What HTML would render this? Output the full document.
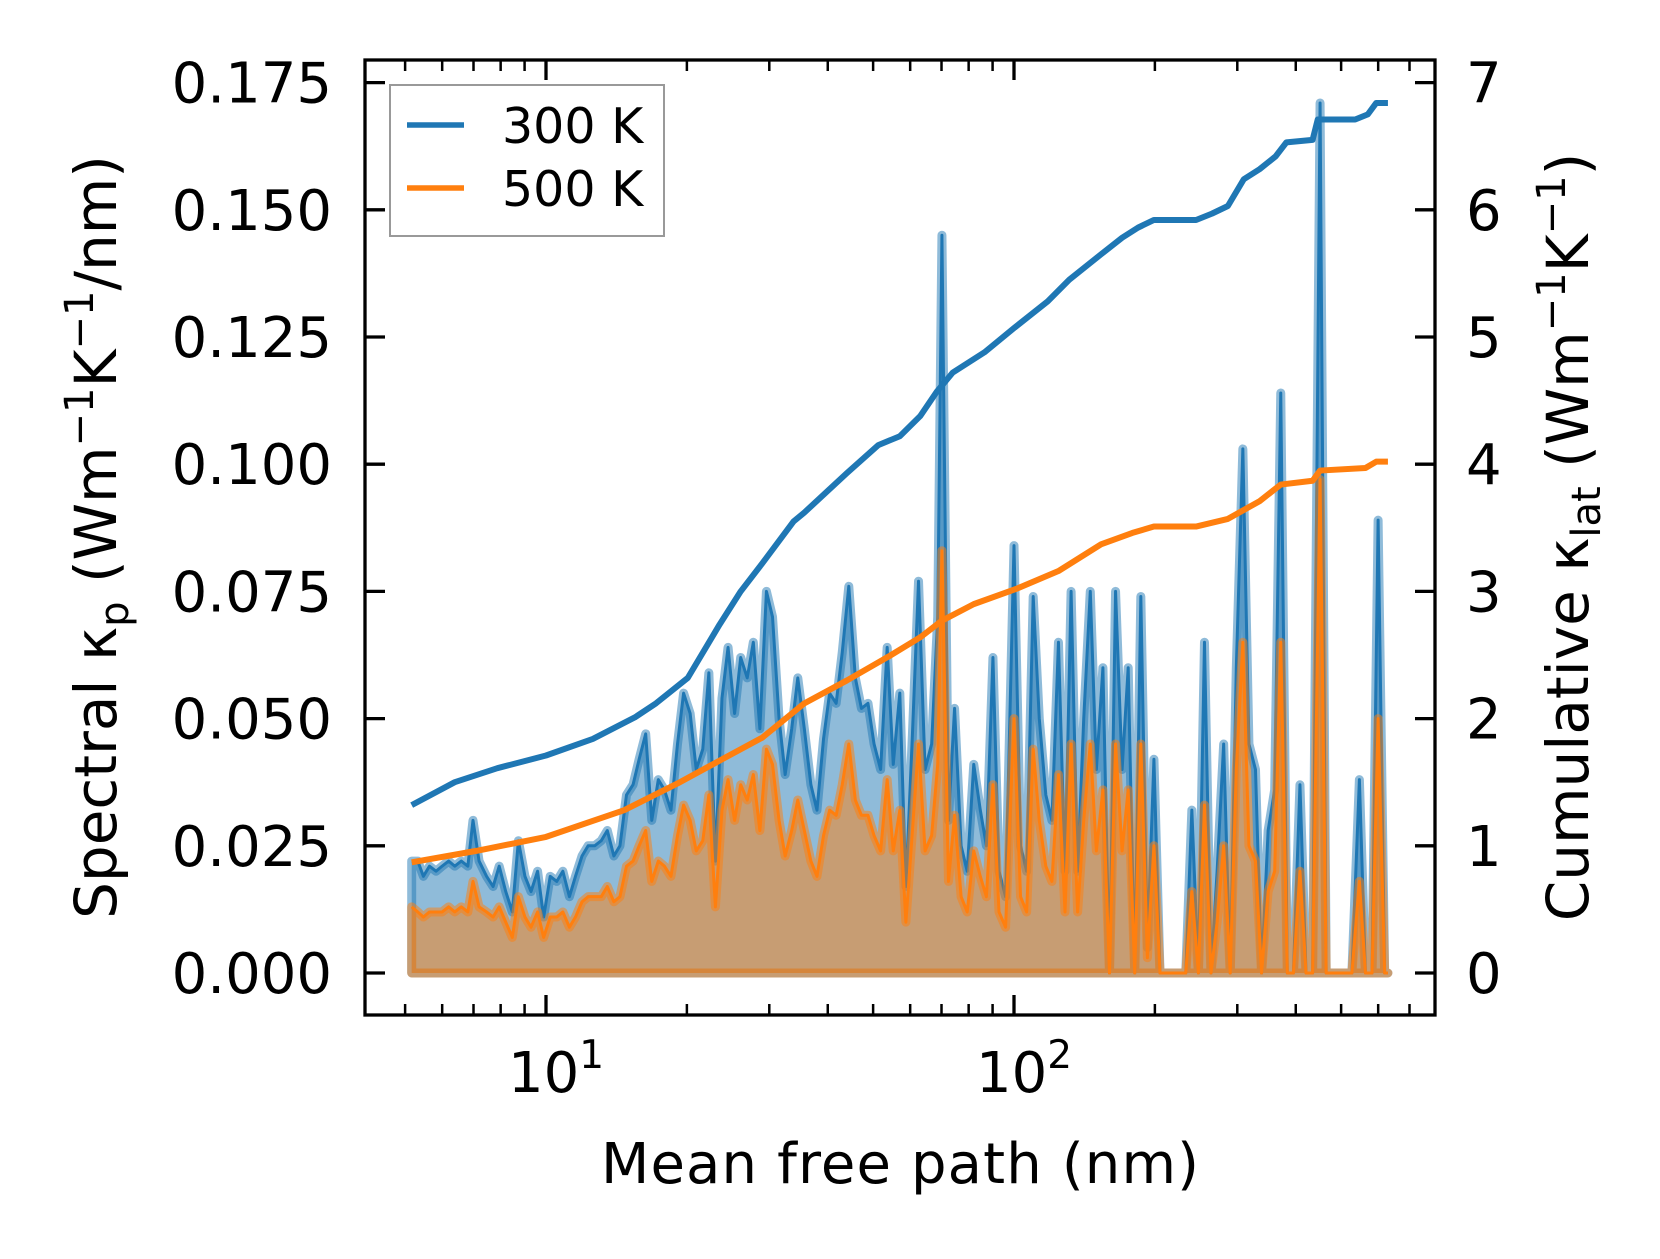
<!DOCTYPE html>
<html><head><meta charset="utf-8"><style>
html,body{margin:0;padding:0;background:#fff}
svg text{font-family:"DejaVu Sans","Liberation Sans",sans-serif;fill:#000}
</style></head><body>
<svg id="chart" width="1660" height="1254" viewBox="0 0 1660 1254" xmlns="http://www.w3.org/2000/svg">
<g id="plot"></g>
</svg>
<script>
// log10 of mean free path (nm) for spectral bins
const logMfp = [
.713,.726,.738,.751,.765,.778,.792,.805,.819,.833,
.844,.857,.873,.887,.900,.914,.928,.941,.955,.968,
.982,.995,1.009,1.023,1.036,1.050,1.063,1.077,1.090,1.104,
1.118,1.131,1.145,1.158,1.172,1.186,1.199,1.213,1.226,1.240,
1.253,1.267,1.281,1.294,1.308,1.321,1.335,1.348,1.362,1.376,
1.389,1.403,1.416,1.430,1.443,1.457,1.471,1.484,1.498,1.511,
1.525,1.538,1.552,1.566,1.579,1.593,1.606,1.620,1.633,1.647,
1.661,1.674,1.688,1.701,1.715,1.729,1.742,1.756,1.769,1.783,
1.796,1.810,1.824,1.837,1.846,1.860,1.873,1.887,1.900,1.914,
1.928,1.941,1.955,1.968,1.982,2.000,2.014,2.027,2.041,2.054,
2.068,2.081,2.095,2.109,2.122,2.136,2.149,2.163,2.176,2.190,
2.204,2.217,2.231,2.244,2.258,2.271,2.285,2.299,2.312,2.326,
2.339,2.353,2.367,2.380,2.394,2.407,2.421,2.434,2.448,2.462,
2.475,2.489,2.502,2.516,2.529,2.543,2.557,2.570,2.584,2.597,
2.611,2.624,2.638,2.654,2.667,2.681,2.695,2.708,2.722,
2.738,2.751,2.765,2.778,2.792,2.799];
const spec300 = [
.022,.022,.019,.021,.020,.021,.022,.021,.022,.021,
.030,.022,.019,.017,.021,.016,.012,.026,.019,.016,
.020,.011,.019,.018,.020,.015,.019,.023,.025,.025,
.026,.028,.023,.025,.035,.037,.042,.047,.030,.038,
.036,.032,.045,.055,.051,.040,.044,.059,.022,.054,
.064,.051,.062,.058,.065,.048,.075,.070,.050,.039,
.048,.058,.048,.037,.032,.046,.055,.053,.063,.076,
.058,.052,.053,.045,.040,.064,.041,.055,.017,.047,
.077,.040,.045,.070,.145,.030,.052,.025,.020,.041,
.032,.025,.062,.020,.015,.084,.025,.020,.074,.050,
.035,.030,.065,.020,.075,.020,.050,.075,.040,.060,
.000,.075,.040,.060,.000,.074,.005,.042,.000,.000,
.000,.000,.000,.032,.000,.065,.000,.020,.045,.000,
.060,.103,.045,.040,.000,.028,.036,.114,.000,.000,
.037,.000,.000,.171,.000,.000,.000,.000,.000,
.038,.000,.000,.089,.000,.000];
const spec500 = [
.013,.012,.011,.012,.012,.012,.013,.012,.013,.012,
.018,.013,.012,.011,.013,.010,.007,.015,.011,.009,
.012,.007,.011,.011,.012,.009,.011,.014,.015,.015,
.015,.017,.014,.015,.021,.022,.025,.028,.018,.022,
.021,.019,.027,.033,.030,.024,.026,.035,.013,.032,
.038,.030,.037,.034,.039,.028,.044,.041,.030,.023,
.028,.034,.028,.022,.019,.027,.032,.031,.037,.045,
.034,.031,.031,.027,.024,.038,.024,.032,.010,.028,
.045,.024,.027,.041,.083,.018,.031,.015,.012,.024,
.019,.015,.037,.012,.009,.050,.015,.012,.044,.030,
.021,.018,.039,.012,.045,.012,.030,.045,.024,.036,
.000,.045,.024,.036,.000,.045,.003,.025,.000,.000,
.000,.000,.000,.016,.000,.033,.000,.010,.025,.000,
.040,.065,.025,.022,.000,.016,.020,.065,.000,.000,
.020,.000,.000,.097,.000,.000,.000,.000,.000,
.018,.000,.000,.050,.000,.000];
// cumulative conductivity
const cumLog300 = [.713,.805,.896,1.0,1.1,1.19,1.235,1.303,1.371,1.416,1.462,1.529,1.552,1.643,1.710,1.756,1.80,1.835,1.869,1.937,2.0,2.072,2.118,2.186,2.231,2.265,2.299,2.389,2.423,2.457,2.491,2.525,2.559,2.582,2.638,2.649,2.729,2.756,2.774,2.799];
const cum300 = [1.32,1.50,1.61,1.71,1.84,2.01,2.12,2.32,2.74,3.00,3.22,3.55,3.62,3.93,4.15,4.22,4.38,4.57,4.72,4.88,5.07,5.28,5.45,5.65,5.78,5.86,5.92,5.92,5.97,6.03,6.24,6.32,6.42,6.53,6.55,6.71,6.71,6.75,6.84,6.84];
const cumLog500 = [.713,.851,1.0,1.167,1.281,1.371,1.462,1.552,1.643,1.733,1.80,1.846,1.914,2.005,2.095,2.186,2.253,2.299,2.389,2.457,2.525,2.570,2.638,2.654,2.751,2.774,2.799];
const cum500 = [0.87,0.96,1.07,1.28,1.49,1.67,1.85,2.12,2.30,2.49,2.64,2.77,2.90,3.02,3.16,3.37,3.46,3.51,3.51,3.57,3.71,3.84,3.87,3.95,3.97,4.02,4.02];
const leftTicks = [0,0.025,0.05,0.075,0.1,0.125,0.15,0.175];
const leftTickLabels = ["0.000","0.025","0.050","0.075","0.100","0.125","0.150","0.175"];
const rightTicks = [0,1,2,3,4,5,6,7];
const xMajor = [1,2];
const xMinorVals = [5,6,7,8,9,20,30,40,50,60,70,80,90,200,300,400,500,600,700];

const NS="http://www.w3.org/2000/svg";
const AX={l:365,r:1435,t:60,b:1015};
const X=L=>546+(L-1)*468;
const YL=v=>973-v*5088;
const YR=c=>973-c*127.2;
const g=document.getElementById('plot');
function mk(tag,attrs,parent){const e=document.createElementNS(NS,tag);for(const k in attrs)e.setAttribute(k,attrs[k]);(parent||g).appendChild(e);return e;}

function specLayer(vals,color,name){
  let d=`M${X(logMfp[0])},${YL(0)}`;
  logMfp.forEach((L,i)=>{d+=` L${X(L)},${YL(vals[i])}`;});
  d+=` L${X(logMfp[logMfp.length-1])},${YL(0)} Z`;
  const f=mk('path',{d:d,fill:color,'fill-opacity':0.5,stroke:color,'stroke-opacity':0.5,'stroke-width':9,'stroke-linejoin':'round'});
  
  
  let d2='';
  logMfp.forEach((L,i)=>{d2+=(i?' L':'M')+X(L)+','+YL(vals[i]);});
  const l=mk('path',{d:d2,fill:'none',stroke:color,'stroke-width':3,'stroke-linejoin':'round'});
  
  
}
specLayer(spec300,'#1f77b4','spectral-300k');
specLayer(spec500,'#ff7f0e','spectral-500k');
function cumLine(xs,vs,color,name){
  let d='';xs.forEach((L,i)=>{d+=(i?' L':'M')+X(L)+','+YR(vs[i]);});
  const p=mk('path',{d:d,fill:'none',stroke:color,'stroke-width':6,'stroke-linejoin':'round'});
  
  
}
cumLine(cumLog300,cum300,'#1f77b4','cumulative-300k');
cumLine(cumLog500,cum500,'#ff7f0e','cumulative-500k');

// axes frame
const fr=mk('rect',{x:AX.l,y:AX.t,width:AX.r-AX.l,height:AX.b-AX.t,fill:'none',stroke:'#000','stroke-width':3.3});



leftTicks.forEach((v,i)=>{
  const y=YL(v);
  const t=mk('line',{x1:AX.l,x2:AX.l+20,y1:y,y2:y,stroke:'#000','stroke-width':3.3});
  
  
  const tx=mk('text',{x:332,y:y+20,'text-anchor':'end','font-size':56});
  tx.textContent=leftTickLabels[i];
  
  
});
rightTicks.forEach(c=>{
  const y=YR(c);
  const t=mk('line',{x1:AX.r-20,x2:AX.r,y1:y,y2:y,stroke:'#000','stroke-width':3.3});
  
  
  const tx=mk('text',{x:1466,y:y+20,'font-size':56});
  tx.textContent=String(c);
  
  
});
xMajor.forEach(L=>{
  const x=X(L);
  [[AX.b,AX.b-20],[AX.t,AX.t+20]].forEach(([a,b])=>{
    const t=mk('line',{x1:x,x2:x,y1:a,y2:b,stroke:'#000','stroke-width':3.3});
    
    
  });
  const tx=mk('text',{x:x+10,y:1092,'text-anchor':'middle','font-size':56});
  
  
  tx.innerHTML='10<tspan font-size="39" dy="-24">'+L+'</tspan>';
});
xMinorVals.forEach(v=>{
  const x=X(Math.log10(v));
  [[AX.b,AX.b-11],[AX.t,AX.t+11]].forEach(([a,b])=>{
    const t=mk('line',{x1:x,x2:x,y1:a,y2:b,stroke:'#000','stroke-width':2.5});
    
    
  });
});
const xt=mk('text',{x:900,y:1183,'text-anchor':'middle','font-size':56,textLength:598});
xt.textContent='Mean free path (nm)';


const yl=mk('text',{x:0,y:0,'text-anchor':'middle','font-size':58,transform:'translate(116,537) rotate(-90)'});
yl.innerHTML='Spectral κ<tspan font-size="40" dy="12">p</tspan><tspan dy="-12"> (Wm</tspan><tspan font-size="40" dy="-23">−1</tspan><tspan dy="23">K</tspan><tspan font-size="40" dy="-23">−1</tspan><tspan dy="23">/nm)</tspan>';


const yr=mk('text',{x:0,y:0,'text-anchor':'middle','font-size':58,transform:'translate(1588,537) rotate(-90)'});
yr.innerHTML='Cumulative κ<tspan font-size="40" dy="12">lat</tspan><tspan dy="-12"> (Wm</tspan><tspan font-size="40" dy="-23">−1</tspan><tspan dy="23">K</tspan><tspan font-size="40" dy="-23">−1</tspan><tspan dy="23">)</tspan>';



const lg=mk('g',{});


const lb=mk('rect',{x:390,y:85,width:274,height:151,fill:'#fff','fill-opacity':0.8,stroke:'#999','stroke-width':2},lg);


[['300 K','#1f77b4',125],['500 K','#ff7f0e',188]].forEach(([lab,c,y])=>{
  const ln=mk('line',{x1:407,x2:464,y1:y,y2:y,stroke:c,'stroke-width':5.5},lg);
  
  
  const t=mk('text',{x:502,y:y+18,'font-size':49},lg);
  t.textContent=lab;
  
  
});
</script>
</body></html>
